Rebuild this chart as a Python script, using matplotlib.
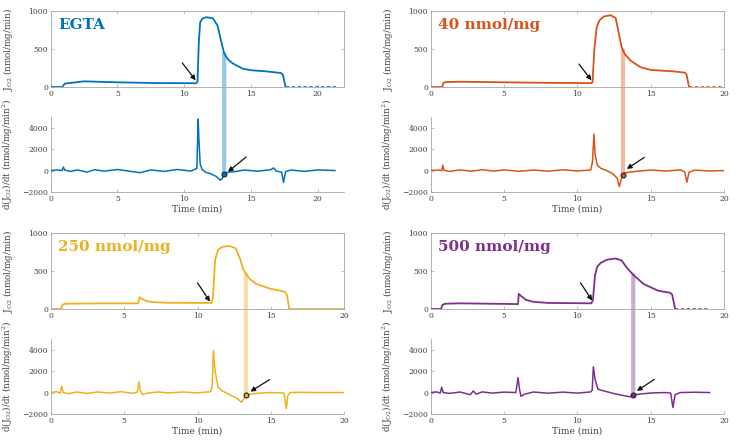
import numpy as np
import matplotlib
matplotlib.use('Agg')
import matplotlib.pyplot as plt
from matplotlib.patches import ConnectionPatch

plt.rcParams['font.family'] = 'DejaVu Serif'
plt.rcParams['mathtext.fontset'] = 'dejavuserif'

# Panel titles and colours (MATLAB default order)
titles = ['EGTA', '40 nmol/mg', '250 nmol/mg', '500 nmol/mg']
colors = ['#0072BD', '#D95319', '#EDB120', '#7E2F8E']
xmax = [22, 20, 20, 20]

# J_O2 traces (nmol/mg/min) vs time (min)
egta_t = [0, 0.85, 0.95, 1.05, 2.5, 5, 8, 10.9, 11.0, 11.1, 11.2, 11.35, 11.65, 12.15, 12.5,
          12.8, 13.0, 13.3, 13.65, 14.4, 15.1, 16.1, 17.25, 17.4, 17.6]
egta_j = [0, 0, 20, 45, 75, 62, 52, 50, 70, 600, 850, 900, 920, 905, 810,
          580, 440, 360, 310, 240, 220, 207, 185, 160, 0]
c40_t = [0, 0.8, 0.85, 1.0, 2, 5, 8, 10.95, 11.02, 11.15, 11.3, 11.5, 11.8, 12.27, 12.6,
         12.8, 13.0, 13.2, 13.6, 14.3, 15.0, 16.6, 17.3, 17.42, 17.6]
c40_j = [0, 0, 50, 65, 70, 62, 55, 52, 60, 500, 780, 880, 930, 945, 910,
         720, 530, 440, 350, 260, 225, 205, 190, 170, 0]
c250_t = [0, 0.7, 0.8, 1.0, 2, 4, 5.95, 6.05, 6.15, 6.5, 7, 8, 10.95, 11.05, 11.2, 11.4,
          11.7, 12.2, 12.6, 12.9, 13.1, 13.3, 13.6, 14.0, 15.0, 15.8, 16.0, 16.1, 16.25]
c250_j = [0, 0, 55, 70, 72, 75, 75, 155, 140, 105, 90, 82, 80, 150, 650, 780,
          820, 830, 800, 660, 530, 460, 390, 330, 265, 235, 220, 180, 0]
c500_t = [0, 0.7, 0.8, 1.0, 2, 4, 5.95, 6.0, 6.1, 6.5, 7, 8, 10.95, 11.05, 11.2, 11.35,
          11.6, 12.0, 12.6, 13.0, 13.4, 13.8, 14.5, 15.5, 16.3, 16.45, 16.65]
c500_j = [0, 0, 55, 70, 75, 70, 65, 200, 180, 120, 95, 80, 75, 120, 450, 560,
          610, 650, 665, 640, 535, 450, 330, 240, 215, 190, 0]

# trailing zero segment after oxygen runs out
tail_t = [[17.6, 21.4], [17.6, 20], [16.25, 20], [16.65, 19]]
tail_j = [[0, 0], [0, 0], [0, 0], [0, 0]]
tail_ls = [(0, (2, 1.5)), (0, (2, 1.5)), '-', (0, (2, 1.5))]

# derivative traces d(J_O2)/dt (nmol/mg/min^2)
egta_dt = [0, 0.5, 0.85, 0.95, 1.05, 1.5, 2.0, 2.7, 3.3, 4.0, 5.0, 6.0, 6.7, 7.5, 8.5, 9.5,
           10.5, 10.95, 11.05, 11.1, 11.2, 11.35, 11.6, 12.0, 12.4, 12.7, 12.85, 13.0, 13.3,
           13.8, 14.5, 15.5, 16.5, 16.7, 16.9, 17.3, 17.45, 17.6, 18.0, 19.0, 20.0, 21.3]
egta_d = [0, 60, 0, 330, 50, -80, 60, -150, 80, -60, 100, -80, -200, 60, -80, 100,
          -50, 200, 4800, 3000, 600, 100, -150, -300, -550, -900, -750, -300, -150,
          -100, 50, -60, 80, 250, -50, -150, -1100, -100, 50, -80, 60, 0]
c40_dt = [0, 0.5, 0.75, 0.82, 0.9, 1.3, 2, 2.8, 3.5, 4.3, 5, 6, 7, 8, 9, 10, 10.9, 11.02,
          11.12, 11.2, 11.35, 11.6, 12.0, 12.4, 12.7, 12.85, 13.0, 13.15, 13.5, 14, 15, 16,
          17, 17.3, 17.45, 17.6, 18, 19, 20]
c40_d = [0, 50, 0, 500, 20, -80, 60, -60, 80, -50, 60, -70, 50, -60, 70, -40, 50, 800,
         3400, 1500, 500, 200, 0, -300, -700, -1500, -700, -250, -150, -80, 50, -50,
         60, -100, -1100, -150, 40, -40, 0]
c250_dt = [0, 0.4, 0.65, 0.75, 0.85, 1.2, 1.8, 2.5, 3.2, 4, 4.8, 5.5, 5.9, 6.0, 6.1, 6.25,
           6.6, 7.3, 8, 9, 10, 10.9, 11.0, 11.08, 11.2, 11.4, 11.7, 12.2, 12.7, 13.0, 13.15,
           13.3, 13.6, 14.2, 15, 15.9, 16.05, 16.15, 16.3, 17, 18, 19, 20]
c250_d = [0, 80, -60, 600, 0, -100, 50, -80, 60, -50, 80, -60, 30, 1000, 200, -200,
          -50, 60, -40, 50, -30, 80, 600, 3900, 2000, 500, 150, -200, -550, -900, -600,
          -250, -150, -60, 0, -50, -1500, -300, 0, 20, 0, 0, 0]
c500_dt = [0, 0.4, 0.65, 0.75, 0.85, 1.3, 2, 2.7, 2.9, 3.1, 3.5, 4.2, 5, 5.8, 5.95, 6.05,
           6.15, 6.4, 7, 8, 9, 10, 10.9, 11.0, 11.08, 11.2, 11.4, 11.8, 12.5, 13.2, 13.6,
           13.8, 14.2, 15, 16, 16.35, 16.5, 16.65, 17, 18, 19]
c500_d = [0, 60, -50, 500, 0, -80, 50, -200, 150, -150, 60, -50, 40, 0, 1400, 300,
          -350, -150, 50, -60, 40, -50, 60, 200, 2400, 1200, 300, 150, -100, -300, -400,
          -220, -150, -40, 0, -50, -1400, -200, 0, 30, 0]

j_t = [egta_t, c40_t, c250_t, c500_t]
j_v = [egta_j, c40_j, c250_j, c500_j]
d_t = [egta_dt, c40_dt, c250_dt, c500_dt]
d_v = [egta_d, c40_d, c250_d, c500_d]

# time where the highlighted band links both traces
band_t = [13.0, 13.1, 13.3, 13.8]

# arrow (tail -> tip) positions in data units: top panel, bottom panel
arrows_top = [((9.86, 317), (10.86, 88)), ((10.1, 302), (10.95, 89)),
              ((10.0, 345), (10.85, 97)), ((10.2, 347), (11.0, 111))]
arrows_bot = [((14.64, 1260), (13.28, -120)), ((14.55, 1230), (13.36, 150)),
              ((14.9, 1200), (13.6, 90)), ((15.23, 1230), (14.05, 150))]

fig = plt.figure(figsize=(7.48, 4.44), dpi=100)
lefts = [0.0678, 0.5758, 0.0678, 0.5758]
top_bottoms = [0.804, 0.804, 0.304, 0.304]
bot_bottoms = [0.5676, 0.5676, 0.0676, 0.0676]
spine_c = '#a6a6a6'
txt_c = '#404040'

for i in range(4):
    c = colors[i]
    ax1 = fig.add_axes([lefts[i], top_bottoms[i], 0.3925, 0.171], facecolor='none')
    ax2 = fig.add_axes([lefts[i], bot_bottoms[i], 0.3925, 0.169], facecolor='none')

    ax1.plot(j_t[i], j_v[i], color=c, lw=1.3, zorder=3)
    ax1.plot(tail_t[i], tail_j[i], color=c, lw=1.2, ls=tail_ls[i], zorder=3)
    ax2.plot(d_t[i], d_v[i], color=c, lw=1.1, zorder=3)

    bt = band_t[i]
    ytop = np.interp(bt, j_t[i], j_v[i])
    ybot = np.interp(bt, d_t[i], d_v[i])
    ax2.plot([bt], [ybot], 'o', ms=3.5, mfc=c, mec='#222222', mew=0.8, zorder=4)
    con = ConnectionPatch(xyA=(bt, ytop), coordsA=ax1.transData,
                          xyB=(bt, ybot), coordsB=ax2.transData,
                          color=c, lw=3.0, alpha=0.4, zorder=1)
    ax1.add_artist(con)

    (tx, ty), (hx, hy) = arrows_top[i]
    ax1.annotate('', xy=(hx, hy), xytext=(tx, ty),
                 arrowprops=dict(arrowstyle='-|>', color='#111111', lw=0.9,
                                 mutation_scale=7, shrinkA=0, shrinkB=0))
    (tx, ty), (hx, hy) = arrows_bot[i]
    ax2.annotate('', xy=(hx, hy), xytext=(tx, ty),
                 arrowprops=dict(arrowstyle='-|>', color='#111111', lw=0.9,
                                 mutation_scale=7, shrinkA=0, shrinkB=0))

    ax1.set_xlim(0, xmax[i])
    ax1.set_ylim(0, 1000)
    ax1.set_yticks([0, 500, 1000])
    ax1.set_xticks(range(0, xmax[i] + 1, 5))
    ax2.set_xlim(0, xmax[i])
    ax2.set_ylim(-2000, 5000)
    ax2.set_yticks([-2000, 0, 2000, 4000])
    ax2.set_xticks(range(0, xmax[i] + 1, 5))

    for sp in ax1.spines.values():
        sp.set_color(spine_c)
        sp.set_linewidth(0.6)
    for s in ['top', 'right']:
        ax2.spines[s].set_visible(False)
    for s in ['left', 'bottom']:
        ax2.spines[s].set_color(spine_c)
        ax2.spines[s].set_linewidth(0.6)

    ax1.tick_params(direction='in', length=2, width=0.5, color=spine_c, labelsize=5.5,
                    labelcolor=txt_c, top=True, right=True, pad=2)
    ax2.tick_params(direction='in', length=2, width=0.5, color=spine_c, labelsize=5.5,
                    labelcolor=txt_c, pad=2)

    ax1.set_ylabel(r'J$_{\mathrm{O2}}$ (nmol/mg/min)', fontsize=6.3, color=txt_c)
    ax2.set_ylabel(r'd(J$_{\mathrm{O2}}$)/dt (nmol/mg/min$^2$)', fontsize=6.3, color=txt_c)
    ax1.yaxis.set_label_coords(-0.12, 0.5)
    ax2.yaxis.set_label_coords(-0.12, 0.5)
    ax2.set_xlabel('Time (min)', fontsize=6.5, color=txt_c, labelpad=1)

    ax1.text(0.025, 0.82, titles[i], transform=ax1.transAxes, color=c,
             fontsize=11, fontweight='bold', va='center', ha='left')

fig.savefig('out.png', dpi=100)
